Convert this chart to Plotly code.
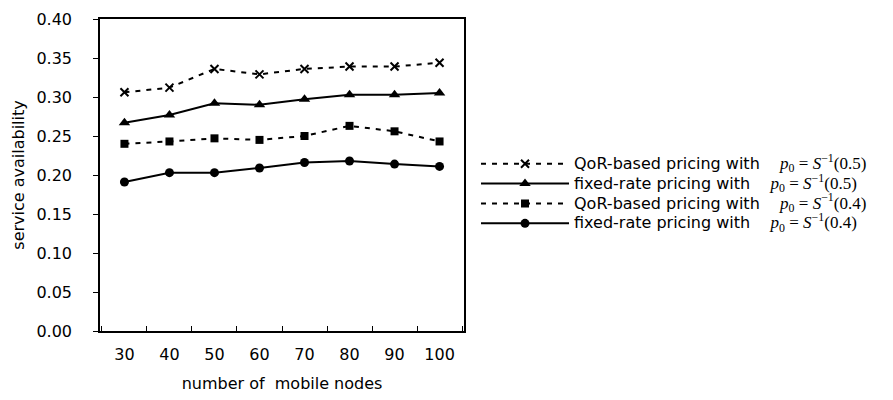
import plotly.graph_objects as go

nodes = ["30", "40", "50", "60", "70", "80", "90", "100"]
qor_05 = [0.306, 0.312, 0.336, 0.329, 0.336, 0.339, 0.339, 0.344]
fixed_05 = [0.267, 0.277, 0.292, 0.290, 0.297, 0.303, 0.303, 0.305]
qor_04 = [0.240, 0.243, 0.247, 0.245, 0.250, 0.263, 0.256, 0.243]
fixed_04 = [0.191, 0.203, 0.203, 0.209, 0.216, 0.218, 0.214, 0.211]
y_ticks = [0.00, 0.05, 0.10, 0.15, 0.20, 0.25, 0.30, 0.35, 0.40]

def label(txt, v):
    return ('<span style="font-size:16px">' + txt + '&nbsp;&nbsp;&nbsp; </span>'
            '<span style="font-family:\'Liberation Serif\', \'Times New Roman\', serif; font-size:17px">'
            '<i>p</i><sub>0</sub> = <i>S</i><sup>−1</sup>(' + v + ')</span>')

series = [
    (label("QoR-based pricing with", "0.5"), qor_05, "x-thin", "dash", 8),
    (label("fixed-rate pricing with", "0.5"), fixed_05, "triangle-up", "solid", 10),
    (label("QoR-based pricing with", "0.4"), qor_04, "square", "dash", 8),
    (label("fixed-rate pricing with", "0.4"), fixed_04, "circle", "solid", 9),
]

fig = go.Figure()
for name, vals, sym, dash, ms in series:
    fig.add_trace(go.Scatter(
        x=nodes, y=vals, name=name, mode="lines+markers",
        line=dict(color="black", width=2, dash="5px,6px" if dash == "dash" else "solid"),
        marker=dict(symbol=sym, size=ms, color="black",
                    line=dict(color="black", width=2 if sym == "x-thin" else 0)),
    ))

fig.update_layout(
    width=893, height=400,
    margin=dict(l=100, r=429, t=19, b=69),
    paper_bgcolor="white", plot_bgcolor="white",
    font=dict(family="DejaVu Sans, sans-serif", size=16, color="black"),
    showlegend=True,
    legend=dict(x=1.033, y=0.44, xanchor="left", yanchor="middle",
                font=dict(size=13), bgcolor="rgba(0,0,0,0)", itemwidth=88),
)
fig.update_xaxes(
    type="category", tickson="boundaries", ticks="inside", ticklen=5,
    tickcolor="black", showline=True, linecolor="black", linewidth=1.5, mirror=True,
    showgrid=False, ticklabelstandoff=8, automargin=False,
    title=dict(text="number of&nbsp; mobile nodes", font=dict(size=16), standoff=15),
)
fig.update_yaxes(
    range=[0, 0.4], tickvals=y_ticks, tickformat=".2f", ticks="outside", ticklen=5,
    tickcolor="black", showline=True, linecolor="black", linewidth=1.5, mirror=True,
    showgrid=False, zeroline=False, ticklabelstandoff=18, automargin=False,
    title=dict(text="service availability", font=dict(size=16), standoff=8),
)

fig.write_html("out.html", config={"displayModeBar": False},
               post_script="document.body.style.margin='0';")
